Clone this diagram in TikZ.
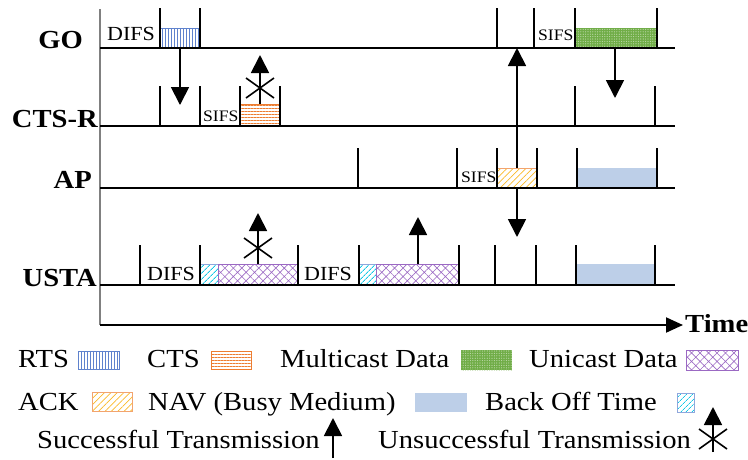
\documentclass[tikz,border=0pt]{standalone}
\usepackage{fontspec}
\setmainfont{Liberation Serif}[FakeStretch=1.1]
\usetikzlibrary{arrows.meta,patterns.meta}
\definecolor{RtsBlue}{RGB}{95,130,205}
\definecolor{CtsOrange}{RGB}{237,125,49}
\definecolor{AckYellow}{RGB}{250,185,40}
\definecolor{McGreen}{RGB}{112,173,71}
\definecolor{UcPurple}{RGB}{155,105,195}
\definecolor{NavBlue}{RGB}{189,207,232}
\definecolor{BoCyan}{RGB}{20,200,230}
\tikzset{
  rowline/.style={line width=2pt},
  tickline/.style={line width=1.8pt},
  sig/.style={line width=1.8pt,-{Triangle[width=18pt,length=18pt]}},
  lab/.style={font=\fontsize{26}{30}\selectfont\bfseries,inner sep=0pt,anchor=base east},
  leg/.style={font=\fontsize{26}{30}\selectfont,inner sep=0pt,anchor=base west},
  difs/.style={font=\fontsize{20}{24}\selectfont,inner sep=0pt,anchor=base west},
  sifs/.style={font=\fontsize{16}{20}\selectfont,inner sep=0pt,anchor=base west},
  rts/.style={draw=RtsBlue,line width=0.6pt,pattern={Lines[angle=90,distance=3pt,line width=0.7pt]},pattern color=RtsBlue},
  cts/.style={draw=CtsOrange,line width=0.6pt,pattern={Lines[angle=0,distance=3pt,line width=0.8pt]},pattern color=CtsOrange},
  ack/.style={draw=CtsOrange!70,line width=0.6pt,pattern={Lines[angle=45,distance=4.5pt,line width=0.7pt]},pattern color=AckYellow},
  mcast/.style={draw=none,fill=McGreen,postaction={pattern={Dots[distance=2.4pt,radius=0.6pt]},pattern color=McGreen!45!white}},
  ucast/.style={draw=UcPurple,line width=0.8pt,pattern={Hatch[angle=45,distance=6pt,line width=0.6pt]},pattern color=UcPurple},
  nav/.style={draw=none,fill=NavBlue},
  boff/.style={draw=RtsBlue!70,line width=0.6pt,pattern={Lines[angle=45,distance=4pt,line width=0.8pt]},pattern color=BoCyan},
  nostar/.pic={\draw[line width=1.6pt] (-14,-10)--(14,10) (-14,10)--(14,-10);}
}
\begin{document}
\begin{tikzpicture}[x=1pt,y=-1pt]
  \useasboundingbox (0,0) rectangle (748,459);

  % boxes of the frames
  \draw[rts]   (160,28) rectangle (200,48);
  \draw[mcast] (575,28) rectangle (657,48);
  \draw[cts]   (240,104) rectangle (280,126);
  \draw[ack]   (497,168) rectangle (537,188);
  \draw[nav]   (577,168) rectangle (657,188);
  \draw[boff]  (200,264) rectangle (218,285);
  \draw[ucast] (218,264) rectangle (298,285);
  \draw[boff]  (359,264) rectangle (376,285);
  \draw[ucast] (376,264) rectangle (459,285);
  \draw[nav]   (576,264) rectangle (655,285);

  % axes
  \coordinate (T) at (100,9);
  \coordinate (O) at (100,325);
  \coordinate (E) at (683,325);
  \draw[gray,line width=1.2pt] (T) -- (O);
  \draw[line width=2pt,-{Triangle[width=15pt,length=17pt]}] (O) -- (E);
  \node[font=\fontsize{26}{30}\selectfont\bfseries,inner sep=0pt,anchor=base west] (time) at (685,332) {Time};

  % station lines
  \foreach \n/\y in {GO/48,CR/126,AP/188,US/285}{
    \coordinate (\n s) at (100,\y);
    \coordinate (\n e) at (675,\y);
    \draw[rowline] (\n s) -- (\n e);
  }
  \node[lab] (goL) at (83,48)  {GO};
  \node[lab] (crL) at (98,127) {CTS-R};
  \node[lab] (apL) at (92,188) {AP};
  \node[lab] (usL) at (97,286) {USTA};

  % slot marks
  \foreach \x in {160,200,497,534,575,657} \draw[tickline] (\x,8) -- (\x,48);
  \foreach \x in {160,200,240,280,575,655} \draw[tickline] (\x,86) -- (\x,126);
  \foreach \x in {358,457,497,537,577,657} \draw[tickline] (\x,148) -- (\x,188);
  \foreach \x in {140,200,298,359,459,495,536,576,655} \draw[tickline] (\x,245) -- (\x,285);

  \node[difs] (d1) at (107,40)  {DIFS};
  \node[difs] (d2) at (147,280) {DIFS};
  \node[difs] (d3) at (304,280) {DIFS};
  \node[sifs] (s1) at (203,121) {SIFS};
  \node[sifs] (s2) at (538,40)  {SIFS};
  \node[sifs] (s3) at (461,182) {SIFS};

  % transmissions
  \coordinate (a1) at (180,48);  \coordinate (b1) at (180,105);
  \coordinate (a2) at (517,168); \coordinate (b2) at (517,48);
  \coordinate (a3) at (517,188); \coordinate (b3) at (517,237);
  \coordinate (a4) at (615,48);  \coordinate (b4) at (615,98);
  \coordinate (a5) at (260,104); \coordinate (b5) at (260,55);
  \coordinate (a6) at (258,264); \coordinate (b6) at (258,213);
  \coordinate (a7) at (418,264); \coordinate (b7) at (418,217);
  \foreach \i in {1,...,7} \draw[sig] (a\i) -- (b\i);
  \pic at (260,88) {nostar};
  \pic at (258,248) {nostar};

  % legend
  \node[leg] (rtsL) at (18,367) {RTS};
  \draw[rts] (78,351) rectangle (119,369);
  \node[leg] (ctsL) at (147,367) {CTS};
  \draw[cts] (211,351) rectangle (251,369);
  \node[leg] (mcL) at (280,367) {Multicast Data};
  \draw[mcast] (461,350) rectangle (512,370);
  \node[leg] (ucL) at (529,367) {Unicast Data};
  \draw[ucast] (686,350) rectangle (738,370);

  \node[leg] (ackL) at (18,410) {ACK};
  \draw[ack] (92,392) rectangle (132,411);
  \node[leg] (navL) at (148,410) {NAV (Busy Medium)};
  \draw[nav] (415,393) rectangle (467,412);
  \node[leg] (boL) at (485,410) {Back Off Time};
  \draw[boff] (677,393) rectangle (694,412);

  \node[leg] (okL) at (37,448) {Successful Transmission};
  \coordinate (okA) at (333,458); \coordinate (okB) at (333,418);
  \draw[sig] (okA) -- (okB);
  \node[leg] (noL) at (378,448) {Unsuccessful Transmission};
  \coordinate (noA) at (713,452); \coordinate (noB) at (713,407);
  \draw[sig] (noA) -- (noB);
  \pic at (713,439) {nostar};
\end{tikzpicture}
\end{document}
